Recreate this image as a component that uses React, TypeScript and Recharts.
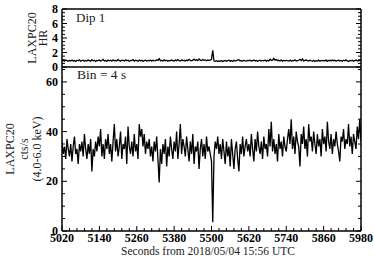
import React from "react";
import { LineChart, Line, XAxis, YAxis, ReferenceLine } from "recharts";

// ---- data (4 s bins starting at 5020 s) ----
const T_START = 5020;
const BIN_S = 4;

const countRate: number[] = [
  36, 31, 34, 29, 37, 33, 30, 35, 28, 34,
  38, 31, 33, 27, 35, 32, 36, 30, 39, 33,
  29, 35, 31, 37, 24, 33, 30, 36, 32, 38,
  34, 41, 30, 35, 29, 37, 33, 39, 31, 35,
  28, 36, 43, 32, 37, 30, 34, 40, 29, 35,
  33, 38, 27, 42, 34, 31, 36, 30, 39, 32,
  35, 29, 43, 38, 41, 34, 39, 31, 36, 33,
  37, 30, 34, 28, 36, 32, 38, 29, 19.5, 33,
  27, 35, 31, 37, 26, 34, 30, 38, 33, 29,
  36, 32, 40, 29, 35, 43, 31, 37, 34, 30,
  38, 33, 28, 36, 31, 39, 27, 34, 32, 36,
  25, 33, 37, 30, 35, 29, 38, 32, 34, 31,
  28, 3.5, 30, 36, 33, 38, 31, 35, 29, 37,
  32, 27, 36, 30, 34, 26, 37, 31, 25, 33,
  36, 29, 24, 35, 31, 38, 30, 34, 37, 32,
  35, 30, 39, 33, 28, 37, 32, 40, 34, 31,
  36, 29, 38, 33, 35, 30, 41, 34, 44, 32,
  37, 31, 35, 28, 39, 33, 36, 30, 38, 34,
  32, 37, 41, 35, 45, 33, 38, 31, 40, 36,
  34, 26, 39, 35, 42, 33, 37, 30, 43, 36,
  38, 32, 40, 35, 31, 39, 34, 37, 30, 41,
  35, 38, 32, 44, 36, 33, 39, 31, 37, 34,
  40, 35, 32, 28, 38, 36, 41, 33, 37, 35,
  43, 34, 38, 31, 39, 36, 33, 42, 37, 45,
  36,
];

const hardnessRatio: number[] = [
  0.85, 0.92, 0.80, 0.95, 0.88, 0.78, 0.90, 0.84, 0.97, 0.82,
  0.89, 0.76, 0.93, 0.86, 0.99, 0.81, 0.87, 0.94, 0.79, 0.91,
  0.83, 0.96, 0.88, 0.80, 1.02, 0.85, 0.92, 0.78, 0.90, 0.87,
  0.95, 0.82, 0.89, 1.05, 0.84, 0.91, 0.79, 0.97, 0.86, 0.93,
  0.80, 0.98, 0.87, 0.92, 0.83, 1.04, 0.88, 0.81, 0.95, 0.90,
  0.84, 0.99, 0.86, 0.93, 0.79, 0.91, 0.88, 1.01, 0.82, 0.94,
  0.87, 0.80, 0.96, 0.85, 0.92, 0.78, 0.89, 0.95, 0.83, 0.90,
  0.86, 0.97, 0.81, 0.93, 0.88, 0.84, 1.00, 0.91, 1.15, 0.87,
  0.92, 0.83, 0.98, 0.86, 0.94, 0.80, 0.90, 0.85, 0.96, 0.88,
  0.82, 0.95, 0.87, 1.03, 0.89, 0.84, 0.99, 0.86, 0.93, 0.81,
  0.97, 0.88, 1.06, 0.90, 0.85, 0.94, 1.08, 0.92, 0.99, 0.87,
  1.10, 0.95, 0.89, 1.02, 0.93, 0.98, 0.86, 0.96, 0.91, 0.94,
  1.05, 2.30, 0.82, 0.78, 0.86, 0.75, 0.84, 0.80, 0.88, 0.77,
  0.85, 0.90, 0.79, 0.87, 0.93, 0.81, 0.89, 0.76, 0.92, 0.84,
  0.88, 0.95, 1.00, 0.83, 0.90, 0.79, 0.94, 0.86, 0.82, 0.91,
  0.87, 0.93, 0.80, 0.89, 0.96, 0.84, 0.91, 0.78, 0.88, 0.95,
  0.83, 0.90, 0.86, 0.97, 0.81, 0.92, 0.85, 1.08, 0.89, 0.94,
  1.18, 0.95, 1.02, 0.88, 0.93, 0.84, 0.97, 0.80, 0.91, 0.86,
  0.92, 0.87, 0.83, 0.95, 0.79, 0.90, 0.85, 0.98, 0.82, 0.88,
  0.93, 1.05, 0.89, 1.12, 0.84, 0.91, 0.96, 0.87, 0.81, 0.94,
  0.86, 0.80, 0.92, 0.77, 0.88, 0.83, 0.95, 0.79, 0.90, 0.85,
  0.91, 0.84, 0.97, 0.78, 0.89, 0.93, 0.82, 0.96, 0.87, 0.92,
  0.81, 0.88, 0.95, 0.84, 0.90, 0.79, 0.93, 0.86, 0.98, 0.83,
  0.77, 0.91, 0.85, 0.94, 0.80, 0.89, 0.96, 0.83, 0.92, 0.87,
  0.90,
];

const xMajorTicks = [5020, 5140, 5260, 5380, 5500, 5620, 5740, 5860, 5980];
const xMinorStep = 24;
const hrMajorTicks = [0, 2, 4, 6, 8];
const hrMinorStep = 0.5;
const rateMajorTicks = [0, 20, 40, 60];
const rateMinorStep = 5;

const X_DOMAIN: [number, number] = [5020, 5980];
const HR_DOMAIN: [number, number] = [0, 8];
const RATE_DOMAIN: [number, number] = [0, 66];

const rows = countRate.map((c, i) => ({
  t: T_START + i * BIN_S,
  rate: c,
  hr: hardnessRatio[i],
}));

const range = (a: number, b: number, s: number) => {
  const out: number[] = [];
  for (let v = a; v <= b + 1e-9; v += s) out.push(Math.round(v * 1000) / 1000);
  return out;
};

const xAllTicks = range(X_DOMAIN[0], X_DOMAIN[1], xMinorStep);
const hrAllTicks = range(HR_DOMAIN[0], 8, hrMinorStep);
const rateAllTicks = range(0, 65, rateMinorStep);

const SERIF = "'Liberation Serif', 'DejaVu Serif', serif";
const W = 374;
const H = 267;
const PLOT_LEFT = 62;
const PLOT_RIGHT = 361;
const TOP_Y0 = 9;
const MID_Y = 67;
const BOT_Y1 = 231;

const MAJ = 5;
const MIN = 3;

const makeXTick = (majors: number[], showLabel: boolean) => (p: any) => {
  const { x, y, payload } = p;
  const v = payload.value;
  const major = majors.includes(v);
  return (
    <g>
      <line x1={x} x2={x} y1={y} y2={y - (major ? MAJ : MIN)} stroke="#000" strokeWidth={1} />
      {showLabel && major && (
        <text x={x} y={y + 10.5} textAnchor="middle" fontFamily={SERIF} fontWeight="bold" fontSize={12} fill="#000">
          {v}
        </text>
      )}
    </g>
  );
};

const makeLeftTick = (majors: number[]) => (p: any) => {
  const { x, y, payload } = p;
  const v = payload.value;
  const major = majors.includes(v);
  return (
    <g>
      <line x1={x} x2={x + (major ? MAJ : MIN)} y1={y} y2={y} stroke="#000" strokeWidth={1} />
      {major && (
        <text x={x - 4} y={y + 4} textAnchor="end" fontFamily={SERIF} fontWeight="bold" fontSize={12} fill="#000">
          {v}
        </text>
      )}
    </g>
  );
};

const makeRightTick = (majors: number[]) => (p: any) => {
  const { x, y, payload } = p;
  const major = majors.includes(payload.value);
  return <line x1={x} x2={x - (major ? MAJ : MIN)} y1={y} y2={y} stroke="#000" strokeWidth={1} />;
};

const axisLine = { stroke: "#000", strokeWidth: 1.5 };

export default function App() {
  return (
    <div style={{ position: "absolute", left: 0, top: 0, width: W, height: H, background: "#fff" }}>
      {/* Top panel: hardness ratio */}
      <div style={{ position: "absolute", left: 0, top: 0 }}>
        <LineChart
          width={W}
          height={H}
          data={rows}
          margin={{ top: TOP_Y0, right: 0, left: 0, bottom: H - MID_Y }}
        >
          <XAxis
            dataKey="t"
            type="number"
            domain={X_DOMAIN}
            ticks={xAllTicks}
            interval={0}
            height={0}
            tickSize={0}
            tickMargin={0}
            tickLine={false}
            tick={makeXTick(xMajorTicks, false)}
            axisLine={axisLine}
            allowDataOverflow
          />
          <YAxis
            yAxisId="l"
            type="number"
            domain={HR_DOMAIN}
            ticks={hrAllTicks}
            interval={0}
            width={PLOT_LEFT}
            tickSize={0}
            tickMargin={0}
            tickLine={false}
            tick={makeLeftTick(hrMajorTicks)}
            axisLine={axisLine}
            allowDataOverflow
          />
          <YAxis
            yAxisId="r"
            orientation="right"
            type="number"
            domain={HR_DOMAIN}
            ticks={hrAllTicks}
            interval={0}
            width={W - PLOT_RIGHT}
            tickSize={0}
            tickMargin={0}
            tickLine={false}
            tick={makeRightTick(hrMajorTicks)}
            axisLine={axisLine}
            allowDataOverflow
          />
          <ReferenceLine yAxisId="l" y={HR_DOMAIN[1]} stroke="#000" strokeWidth={1.5} />
          <Line
            yAxisId="l"
            dataKey="hr"
            type="linear"
            stroke="#000"
            strokeWidth={1.3}
            dot={false}
            isAnimationActive={false}
          />
        </LineChart>
      </div>

      {/* Bottom panel: count rate */}
      <div style={{ position: "absolute", left: 0, top: 0 }}>
        <LineChart
          width={W}
          height={H}
          data={rows}
          margin={{ top: MID_Y, right: 0, left: 0, bottom: 0 }}
        >
          <XAxis
            dataKey="t"
            type="number"
            domain={X_DOMAIN}
            ticks={xAllTicks}
            interval={0}
            height={H - BOT_Y1}
            tickSize={0}
            tickMargin={0}
            tickLine={false}
            tick={makeXTick(xMajorTicks, true)}
            axisLine={axisLine}
            allowDataOverflow
          />
          <YAxis
            yAxisId="l"
            type="number"
            domain={RATE_DOMAIN}
            ticks={rateAllTicks}
            interval={0}
            width={PLOT_LEFT}
            tickSize={0}
            tickMargin={0}
            tickLine={false}
            tick={makeLeftTick(rateMajorTicks)}
            axisLine={axisLine}
            allowDataOverflow
          />
          <YAxis
            yAxisId="r"
            orientation="right"
            type="number"
            domain={RATE_DOMAIN}
            ticks={rateAllTicks}
            interval={0}
            width={W - PLOT_RIGHT}
            tickSize={0}
            tickMargin={0}
            tickLine={false}
            tick={makeRightTick(rateMajorTicks)}
            axisLine={axisLine}
            allowDataOverflow
          />
          <ReferenceLine yAxisId="l" y={RATE_DOMAIN[1]} stroke="#000" strokeWidth={1.5} />
          <Line
            yAxisId="l"
            dataKey="rate"
            type="linear"
            stroke="#000"
            strokeWidth={1.3}
            dot={false}
            isAnimationActive={false}
          />
        </LineChart>
      </div>

      {/* Text overlay */}
      <svg width={W} height={H} style={{ position: "absolute", left: 0, top: 0, pointerEvents: "none" }}>
        <g fontFamily={SERIF} fill="#222" fontSize={12}>
          <text x={32} y={38} transform="rotate(-90 32 38)" textAnchor="middle" dominantBaseline="central">LAXPC20</text>
          <text x={43} y={38} transform="rotate(-90 43 38)" textAnchor="middle" dominantBaseline="central">HR</text>
          <text x={10} y={149} transform="rotate(-90 10 149)" textAnchor="middle" dominantBaseline="central">LAXPC20</text>
          <text x={23.5} y={149} transform="rotate(-90 23.5 149)" textAnchor="middle" dominantBaseline="central">cts/s</text>
          <text x={37} y={149} transform="rotate(-90 37 149)" textAnchor="middle" dominantBaseline="central">(4.0-6.0 keV)</text>
          <text x={76} y={22} fontSize={13} fill="#222">Dip 1</text>
          <text x={77} y={79} fontSize={13.5} fill="#222">Bin = 4 s</text>
          <text x={208} y={255} fontSize={11.5} textAnchor="middle" fill="#222">Seconds from 2018/05/04 15:56 UTC</text>
        </g>
      </svg>
    </div>
  );
}
